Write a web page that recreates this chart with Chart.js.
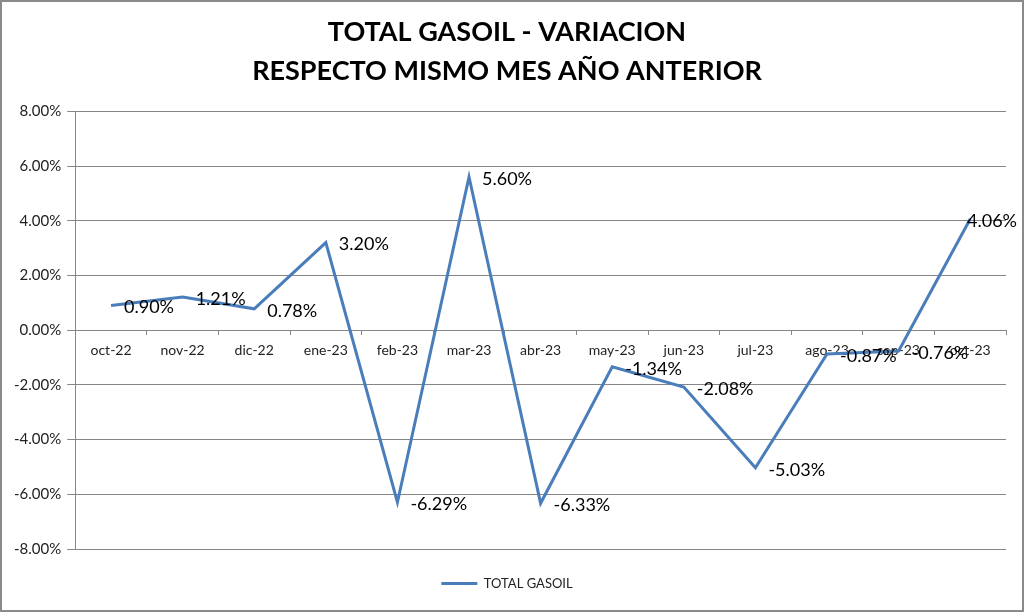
<!DOCTYPE html>
<html>
<head>
<meta charset="utf-8">
<script src="https://cdn.jsdelivr.net/npm/chart.js@4.4.0/dist/chart.umd.min.js"></script>
<style>
  body { margin: 0; background: #fff; }
  #wrap { width: 1024px; height: 612px; }
</style>
</head>
<body>
<div id="wrap"><canvas id="gasoilChart" width="1024" height="612"></canvas></div>
<script>
const meses = ['oct-22', 'nov-22', 'dic-22', 'ene-23', 'feb-23', 'mar-23', 'abr-23',
    'may-23', 'jun-23', 'jul-23', 'ago-23', 'sep-23', 'oct-23'];
const variacion = [0.90, 1.21, 0.78, 3.20, -6.29, 5.60, -6.33, -1.34, -2.08, -5.03, -0.87, -0.76, 4.06];
const ejeY = [-8, -6, -4, -2, 0, 2, 4, 6, 8];

const fuente = 'Lato, "Open Sans", sans-serif';

// marco gris y fondo blanco
const marco = {
    id: 'marco',
    beforeDraw(chart) {
        const ctx = chart.ctx;
        ctx.save();
        ctx.fillStyle = '#fff';
        ctx.fillRect(0, 0, chart.width, chart.height);
        ctx.strokeStyle = '#8a8a8a';
        ctx.lineWidth = 2;
        ctx.strokeRect(1, 1, chart.width - 2, chart.height - 2);
        ctx.restore();
    }
};

// etiquetas de datos a la derecha de cada punto
const etiquetas = {
    id: 'etiquetas',
    afterDatasetsDraw(chart) {
        const ctx = chart.ctx;
        const pts = chart.getDatasetMeta(0).data;
        ctx.save();
        ctx.font = '18px ' + fuente;
        ctx.fillStyle = '#000';
        ctx.textBaseline = 'middle';
        ctx.textAlign = 'left';
        pts.forEach((p, i) => {
            const txt = variacion[i].toFixed(2) + '%';
            const w = ctx.measureText(txt).width;
            let x = p.x + 13;
            if (x + w > chart.width - 7) x = chart.width - 7 - w; // que no se salga
            ctx.fillText(txt, x, p.y + 2);
        });
        ctx.restore();
    }
};

const config = {
    type: 'line',
    data: {
        labels: meses,
        datasets: [{
            label: 'TOTAL GASOIL',
            data: variacion,
            borderColor: '#4a7ebb',
            backgroundColor: '#4a7ebb',
            borderWidth: 3,
            pointRadius: 0,
            tension: 0,
        }]
    },
    options: {
        responsive: false,
        animation: false,
        layout: { padding: { left: 8, right: 18, top: 0, bottom: 12 } },
        plugins: {
            title: {
                display: true,
                text: ['TOTAL GASOIL - VARIACION', 'RESPECTO MISMO MES AÑO ANTERIOR'],
                color: '#000',
                font: { family: fuente, size: 27, weight: 'bold', lineHeight: 1.45 },
                padding: { top: 13, bottom: 20 }
            },
            legend: {
                position: 'bottom',
                title: { display: true, text: ' ', font: { size: 10, lineHeight: 1 }, padding: 3 },
                labels: {
                    usePointStyle: true,
                    pointStyle: 'line',
                    pointStyleWidth: 36,
                    color: '#222',
                    font: { family: fuente, size: 13 },
                    padding: 12
                }
            },
            tooltip: { enabled: false }
        },
        scales: {
            x: {
                position: { y: 0 },
                offset: true,
                grid: { display: true, drawOnChartArea: false, offset: true, tickLength: 5, color: '#868686' },
                border: { display: false },
                ticks: { color: '#222', font: { family: fuente, size: 14 }, maxRotation: 0, autoSkip: false, padding: 7 }
            },
            y: {
                min: ejeY[0],
                max: ejeY[ejeY.length - 1],
                afterBuildTicks(axis) {
                    axis.ticks = ejeY.map(v => ({ value: v }));
                },
                grid: { color: '#868686', tickLength: 8 },
                border: { color: '#868686' },
                ticks: {
                    color: '#222',
                    font: { family: fuente, size: 15 },
                    padding: 6,
                    callback: v => v.toFixed(2) + '%'
                }
            }
        }
    },
    plugins: [marco, etiquetas]
};

const graficoGasoil = new Chart(document.getElementById('gasoilChart'), config);
</script>
</body>
</html>
